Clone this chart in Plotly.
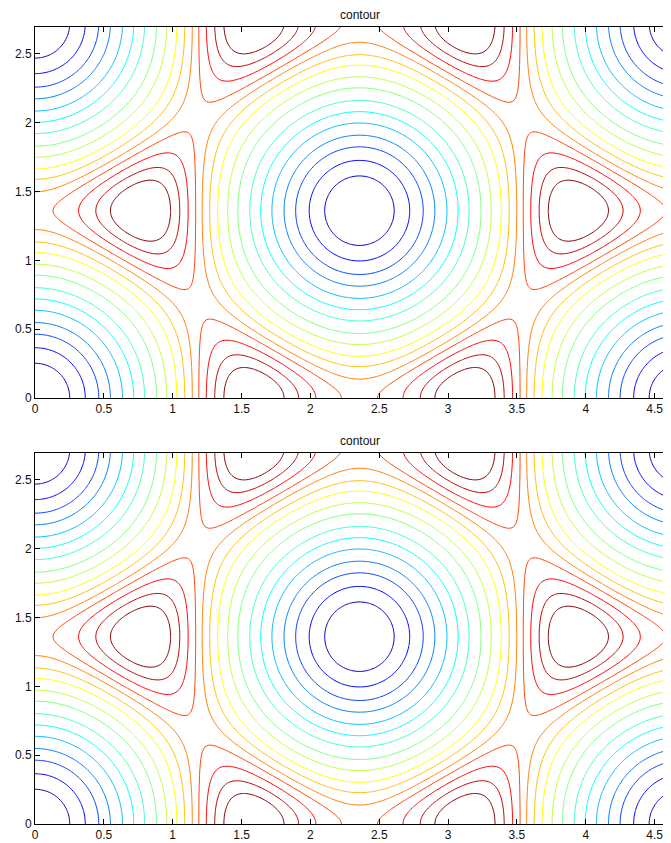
import numpy as np
import plotly.graph_objects as go

# ---- data -------------------------------------------------------------
x_extent = [0.0, 3 * np.pi / 2]                 # data extent in x
y_extent = [0.0, np.sqrt(3) * np.pi / 2]        # data extent in y
n_x, n_y = 360, 210

# contour levels (values of the surface below)
levels = [-2.67, -2.33, -1.96, -1.60, -1.20, -0.82, -0.45, -0.06,
          0.25, 0.53, 0.73, 0.90, 1.03, 1.16, 1.28, 1.38]
# jet(16) colours, one per level
level_colors = [
    "rgb(0,0,191)", "rgb(0,0,255)", "rgb(0,64,255)", "rgb(0,128,255)",
    "rgb(0,191,255)", "rgb(0,255,255)", "rgb(64,255,191)", "rgb(128,255,128)",
    "rgb(191,255,64)", "rgb(255,255,0)", "rgb(255,191,0)", "rgb(255,128,0)",
    "rgb(255,64,0)", "rgb(255,0,0)", "rgb(191,0,0)", "rgb(128,0,0)",
]
x_ticks = [0, 0.5, 1, 1.5, 2, 2.5, 3, 3.5, 4, 4.5]
y_ticks = [0, 0.5, 1, 1.5, 2, 2.5]
x_tick_text = ["0", "0.5", "1", "1.5", "2", "2.5", "3", "3.5", "4", "4.5"]
y_tick_text = ["0", "0.5", "1", "1.5", "2", "2.5"]
panel_titles = ["contour", "contour"]

# ---- surface ----------------------------------------------------------
xs = np.linspace(x_extent[0], x_extent[1], n_x)
ys = np.linspace(y_extent[0], y_extent[1], n_y)
X, Y = np.meshgrid(xs, ys)
s3 = np.sqrt(3)
Z = -(np.cos(8 * X / 3) + np.cos(4 * X / 3 + 4 * Y / s3) + np.cos(4 * X / 3 - 4 * Y / s3))

# ---- figure -----------------------------------------------------------
BODY = 8                       # default page margin around the figure
W, H = 671 - BODY, 843 - BODY
mt, mb, ml, mr = 27 - BODY, 19, 35 - BODY, 0
plot_h = H - mt - mb
panel_px = 371
px_per_unit = 137.7
x_visible_max = (W - ml - mr) / px_per_unit
y_visible_max = panel_px / px_per_unit

fig = go.Figure()
axes = [("x", "y"), ("x2", "y2")]
for xa, ya in axes:
    for lv, col in zip(levels, level_colors):
        fig.add_trace(go.Contour(
            x=xs, y=ys, z=Z, xaxis=xa, yaxis=ya,
            autocontour=False,
            contours=dict(start=lv, end=lv, size=1, coloring="none"),
            line=dict(color=col, width=1, smoothing=1),
            showscale=False, hoverinfo="skip",
        ))

font = dict(family="Liberation Sans, Arial, sans-serif", size=12, color="#111")
top_dom = [1 - panel_px / plot_h, 1]
bot_dom = [0, panel_px / plot_h]

common_x = dict(range=[0, x_visible_max], tickvals=x_ticks, ticktext=x_tick_text,
                ticks="inside", ticklen=5, tickcolor="black", showline=True,
                linecolor="black", linewidth=1, mirror="ticks", showgrid=False,
                zeroline=False, tickfont=font, automargin=False)
common_y = dict(range=[0, y_visible_max], tickvals=y_ticks, ticktext=y_tick_text,
                ticks="inside", ticklen=5, tickcolor="black", showline=True,
                linecolor="black", linewidth=1, mirror=False, showgrid=False,
                zeroline=False, tickfont=font, automargin=False)

fig.update_layout(
    template="none",
    width=W, height=H,
    margin=dict(t=mt, b=mb, l=ml, r=mr, pad=0, autoexpand=False),
    paper_bgcolor="white", plot_bgcolor="white",
    showlegend=False,
    xaxis=dict(domain=[0, 1], anchor="y", **common_x),
    yaxis=dict(domain=top_dom, anchor="x", **common_y),
    xaxis2=dict(domain=[0, 1], anchor="y2", **common_x),
    yaxis2=dict(domain=bot_dom, anchor="x2", **common_y),
)

# titles centred over the full (partly off-screen) plot area, which in the
# reference runs from x=35 px to about x=684 px
title_x = ((35 + 684) / 2 - BODY - ml) / (W - ml - mr)
title_gap = 12 / plot_h        # title centre sits ~12 px above each panel
for dom, t in zip([top_dom, bot_dom], panel_titles):
    fig.add_annotation(text=t, xref="paper", yref="paper", x=title_x,
                       y=dom[1] + title_gap, yanchor="middle", xanchor="center",
                       borderpad=0, showarrow=False, font=font)

fig.write_html("out.html")
